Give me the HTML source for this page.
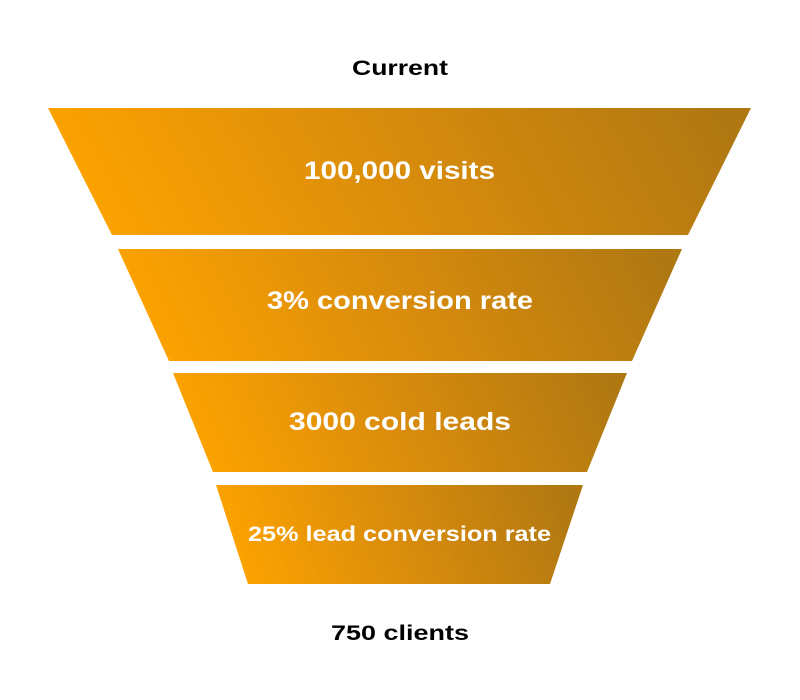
<!DOCTYPE html>
<html><head><style>
html,body{margin:0;padding:0;background:#fff;}
svg{display:block;}
text{font-family:"Liberation Sans",sans-serif;font-weight:bold;}
</style></head><body>
<svg width="800" height="700" viewBox="0 0 800 700" xmlns="http://www.w3.org/2000/svg">
<defs>
<linearGradient id="g" x1="0" y1="0.55" x2="1" y2="0.45">
<stop offset="0" stop-color="#FFA400"/>
<stop offset="0.5" stop-color="#D98C0C"/>
<stop offset="1" stop-color="#B07812"/>
</linearGradient>
</defs>
<text x="352" y="75" font-size="21" textLength="96" lengthAdjust="spacingAndGlyphs" fill="#000">Current</text>
<polygon points="48,108 751,108 688,235 112,235" fill="url(#g)"/>
<polygon points="118,249 682,249 632,361 169,361" fill="url(#g)"/>
<polygon points="173,373 627,373 587,472 213,472" fill="url(#g)"/>
<polygon points="216,485 583,485 550,584 248,584" fill="url(#g)"/>
<text x="304" y="179" font-size="25" textLength="191" lengthAdjust="spacingAndGlyphs" fill="#fff">100,000 visits</text>
<text x="267" y="309" font-size="25" textLength="266" lengthAdjust="spacingAndGlyphs" fill="#fff">3% conversion rate</text>
<text x="289" y="430" font-size="25" textLength="222" lengthAdjust="spacingAndGlyphs" fill="#fff">3000 cold leads</text>
<text x="248" y="541" font-size="21" textLength="303" lengthAdjust="spacingAndGlyphs" fill="#fff">25% lead conversion rate</text>
<text x="331" y="640" font-size="21" textLength="138" lengthAdjust="spacingAndGlyphs" fill="#000">750 clients</text>
</svg>
</body></html>
